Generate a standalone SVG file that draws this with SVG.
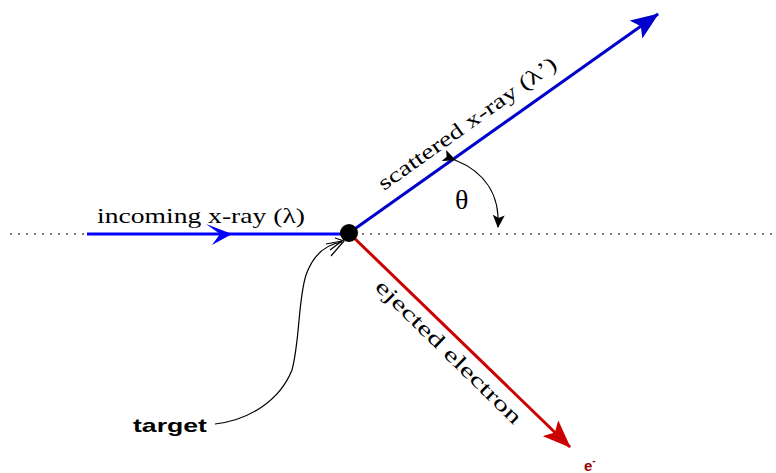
<svg xmlns="http://www.w3.org/2000/svg" width="776" height="473" viewBox="0 0 776 473">
<style>
.lbl{font-family:"Liberation Serif","DejaVu Serif",serif;font-size:21px;fill:#000}
.thin{fill:none;stroke:#000;stroke-width:1.2}
</style>
<defs>
<marker id="bluehead" markerWidth="30" markerHeight="22" refX="27" refY="11" orient="auto" markerUnits="userSpaceOnUse">
<path d="M0,0 L28,11 L0,22 L6,11 Z" fill="#0000cc"/>
</marker>
<marker id="redhead" markerWidth="30" markerHeight="22" refX="27" refY="11" orient="auto" markerUnits="userSpaceOnUse">
<path d="M0,0 L28,11 L0,22 L6,11 Z" fill="#cc0000"/>
</marker>
<marker id="small" markerWidth="14" markerHeight="12" refX="12" refY="6" orient="auto" markerUnits="userSpaceOnUse">
<path d="M0,0 L13,6 L0,12 L3,6 Z" fill="#000"/>
</marker>
</defs>
<g id="axis">
<line x1="10" y1="234" x2="776" y2="234" stroke="#000" stroke-width="1.2" stroke-dasharray="2,6"/>
</g>
<g id="connectors">
<line x1="87" y1="234" x2="349" y2="234" stroke="#0000ff" stroke-width="3"/>
<path d="M206,224 L232,234 L212,245 L220,234 Z" fill="#0000ff"/>
<line x1="349" y1="233" x2="658" y2="14" stroke="#0000cc" stroke-width="3" marker-end="url(#bluehead)"/>
<line x1="349" y1="233" x2="570" y2="447" stroke="#cc0000" stroke-width="3" marker-end="url(#redhead)"/>
<path d="M455,160 C485,172 500,195 498,227" class="thin" marker-start="url(#small)" marker-end="url(#small)"/>
<path d="M215,424 C250,420 280,400 292,370 C300,340 298,300 306,275 C312,258 322,245 342,242" class="thin"/>
<path d="M326,244 L342,241 L330,250" class="thin"/>
<path d="M335,238 L344,241 L331,256" class="thin"/>
</g>
<g id="target">
<circle cx="349" cy="233" r="9" fill="#000"/>
<text x="133" y="432" textLength="74" lengthAdjust="spacingAndGlyphs" style="font-family:'Liberation Sans',Arial,sans-serif;font-weight:bold;font-size:19px;fill:#000">target</text>
</g>
<g id="labels">
<text x="97" y="223" class="lbl" textLength="208" lengthAdjust="spacingAndGlyphs">incoming x-ray (λ)</text>
<text x="0" y="0" class="lbl" transform="translate(384,191) rotate(-35.4)" textLength="214" lengthAdjust="spacingAndGlyphs">scattered x-ray (λ’)</text>
<text x="0" y="0" class="lbl" transform="translate(374,288) rotate(44.5)" textLength="196" lengthAdjust="spacingAndGlyphs">ejected electron</text>
<text x="455" y="209" font-family="Liberation Serif, DejaVu Serif, serif" font-size="28" fill="#000">θ</text>
<text x="584" y="471" style="font-family:'Liberation Sans',Arial,sans-serif;font-weight:bold;font-size:15px;fill:#990000">e<tspan dy="-7" font-size="10">-</tspan></text>
</g>
</svg>
